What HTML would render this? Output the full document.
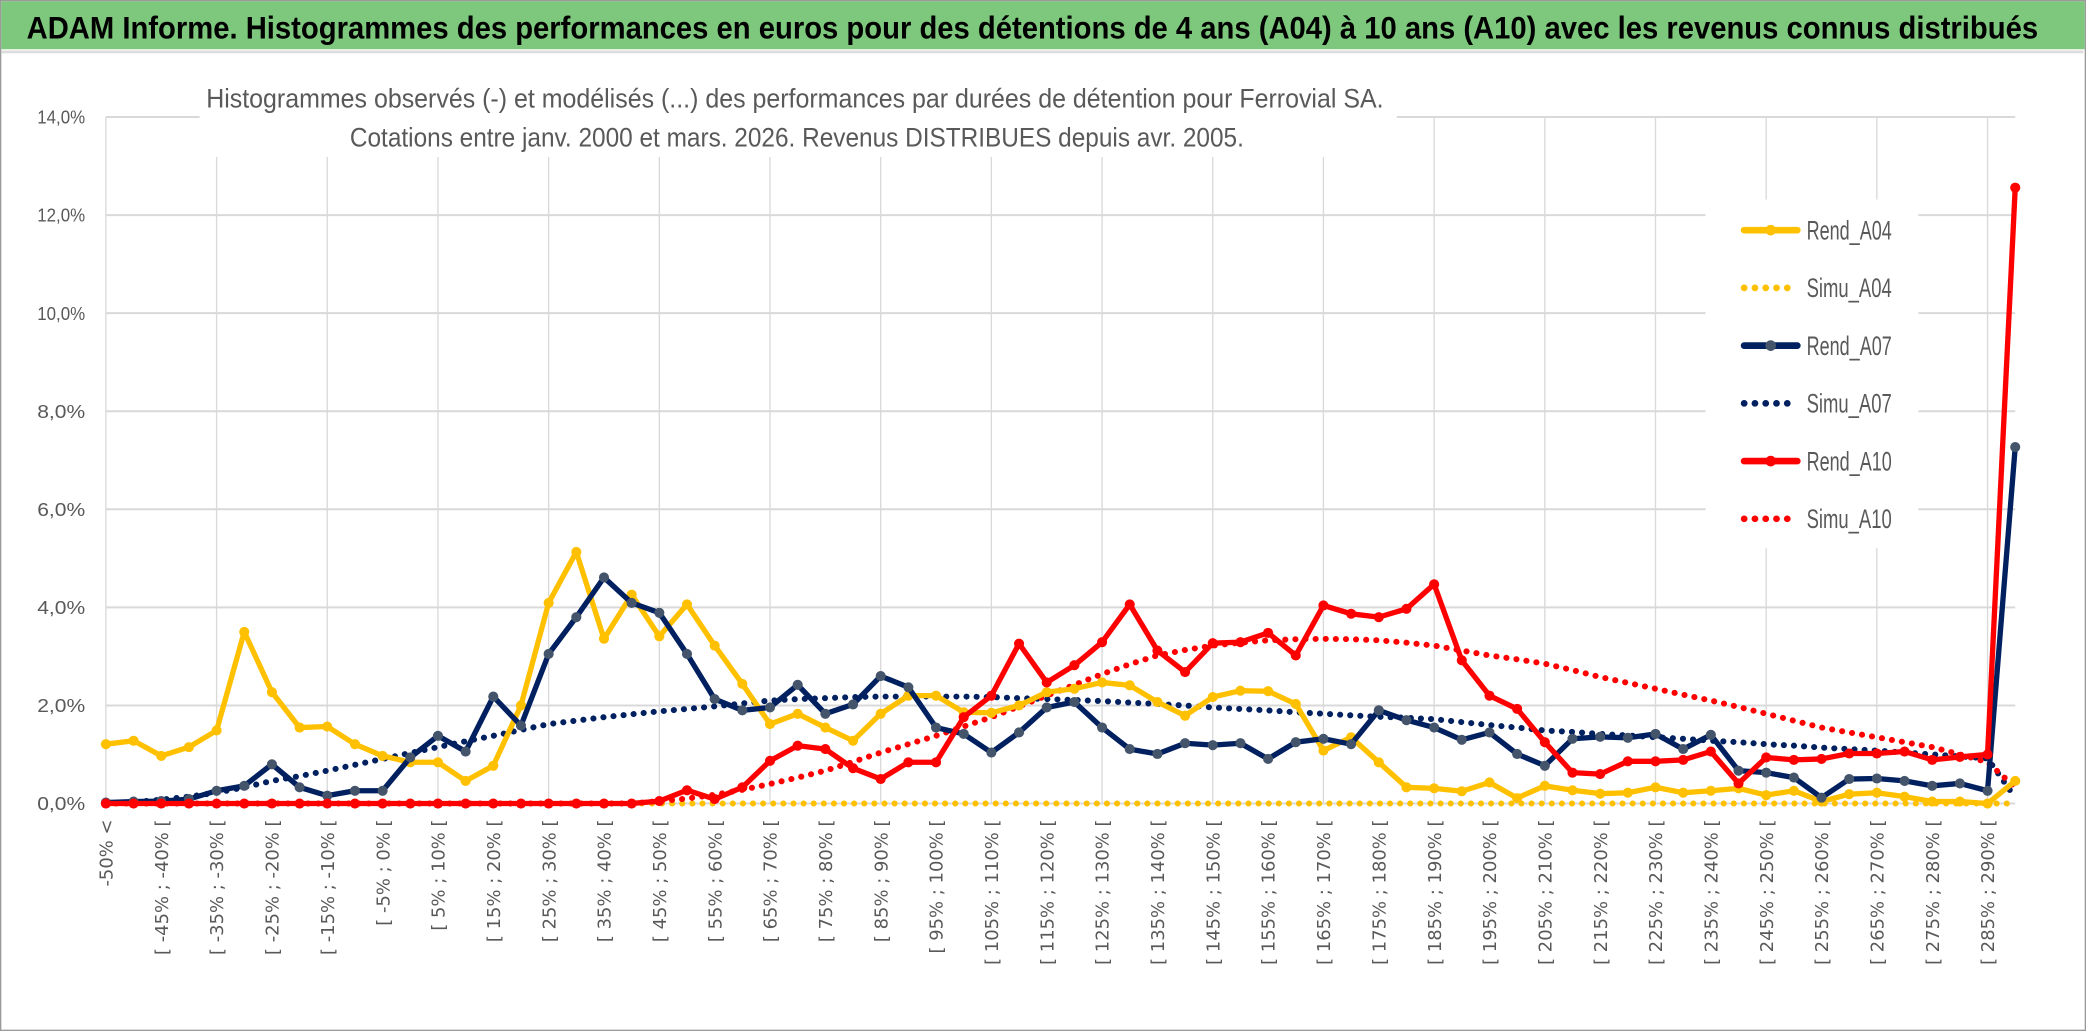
<!DOCTYPE html>
<html><head><meta charset="utf-8"><style>
html,body{margin:0;padding:0;background:#fff;}
svg{display:block;}
</style></head><body>
<svg id="chart" width="2086" height="1031" viewBox="0 0 1568 775" preserveAspectRatio="none" xmlns="http://www.w3.org/2000/svg">
<rect x="0.5" y="0.5" width="1567" height="774" fill="#fff" stroke="#9a9a9a" stroke-width="1"/>
<rect x="1" y="1" width="1566" height="36" fill="#7dc87d"/>
<line x1="1" y1="39" x2="1566" y2="39" stroke="#dcdcdc" stroke-width="2"/>
<text x="20" y="29" font-family="'Liberation Sans',sans-serif" font-weight="bold" font-size="24" fill="#000" textLength="1512" lengthAdjust="spacingAndGlyphs">ADAM Informe. Histogrammes des performances en euros pour des détentions de 4 ans (A04) à 10 ans (A10) avec les revenus connus distribués</text>
<g id="grid"></g>
<rect x="150" y="56" width="900" height="62" fill="#fff"/>
<text x="155" y="81" font-family="'Liberation Sans',sans-serif" font-size="20" fill="#595959" textLength="885" lengthAdjust="spacingAndGlyphs">Histogrammes observés (-) et modélisés (...) des performances par durées de détention pour Ferrovial SA.</text>
<text x="263" y="110" font-family="'Liberation Sans',sans-serif" font-size="20" fill="#595959" textLength="672" lengthAdjust="spacingAndGlyphs">Cotations entre janv. 2000 et mars. 2026. Revenus DISTRIBUES depuis avr. 2005.</text>
<rect x="1282" y="150" width="160" height="262" fill="#fff"/>
<g id="yaxis"></g>
<g id="xaxis"></g>
<g id="series"></g>
<g id="legend"></g>
</svg>
<script>
const categories = ["-50% <"];
for (let k = -50; k < 290; k += 5) categories.push("[ " + k + "% ; " + (k + 5) + "% [");
categories.push("> 290%");
const yTicks = [0, 2, 4, 6, 8, 10, 12, 14];
const rendA04 = [1.21,1.28,0.97,1.15,1.49,3.50,2.27,1.55,1.57,1.21,0.97,0.84,0.84,0.46,0.77,2.00,4.09,5.13,3.36,4.26,3.41,4.06,3.22,2.44,1.62,1.83,1.55,1.28,1.83,2.20,2.20,1.86,1.85,2.00,2.27,2.34,2.47,2.41,2.07,1.79,2.17,2.30,2.29,2.03,1.08,1.35,0.84,0.33,0.31,0.25,0.43,0.11,0.36,0.27,0.20,0.22,0.33,0.22,0.26,0.31,0.17,0.26,0.04,0.19,0.22,0.14,0.04,0.04,0.00,0.46];
const simuA04 = [0,0,0,0,0,0,0,0,0,0,0,0,0,0,0,0,0,0,0,0,0,0,0,0,0,0,0,0,0,0,0,0,0,0,0,0,0,0,0,0,0,0,0,0,0,0,0,0,0,0,0,0,0,0,0,0,0,0,0,0,0,0,0,0,0,0,0,0,0,0];
const rendA07 = [0.02,0.04,0.05,0.09,0.26,0.36,0.80,0.33,0.16,0.26,0.26,0.94,1.38,1.06,2.18,1.59,3.05,3.80,4.61,4.09,3.89,3.05,2.13,1.90,1.96,2.42,1.83,2.02,2.60,2.37,1.55,1.42,1.04,1.45,1.96,2.07,1.55,1.11,1.01,1.23,1.19,1.23,0.91,1.25,1.32,1.21,1.90,1.70,1.55,1.30,1.45,1.01,0.77,1.32,1.36,1.34,1.42,1.11,1.40,0.67,0.63,0.53,0.12,0.50,0.51,0.46,0.36,0.41,0.26,7.27];
const simuA07 = [0.00,0.03,0.08,0.14,0.22,0.33,0.46,0.56,0.67,0.79,0.91,1.03,1.15,1.27,1.38,1.50,1.62,1.69,1.76,1.82,1.88,1.93,1.98,2.04,2.10,2.13,2.15,2.17,2.18,2.18,2.18,2.18,2.17,2.15,2.13,2.11,2.09,2.06,2.03,2.00,1.96,1.93,1.90,1.86,1.83,1.80,1.77,1.75,1.72,1.66,1.60,1.55,1.49,1.46,1.42,1.39,1.35,1.32,1.28,1.25,1.21,1.18,1.14,1.11,1.08,1.04,1.00,0.96,0.92,0.12];
const rendA10 = [0,0,0,0,0,0,0,0,0,0,0,0,0,0,0,0,0,0,0,0,0.05,0.27,0.09,0.33,0.87,1.18,1.11,0.72,0.50,0.84,0.84,1.76,2.20,3.26,2.47,2.82,3.29,4.06,3.12,2.68,3.27,3.29,3.48,3.02,4.04,3.87,3.80,3.97,4.47,2.92,2.20,1.93,1.25,0.63,0.60,0.86,0.86,0.89,1.06,0.41,0.94,0.89,0.91,1.02,1.02,1.06,0.89,0.95,1.00,12.56];
const simuA10 = [0,0,0,0,0,0,0,0,0,0,0,0,0,0,0,0,0,0,0,0,0.05,0.10,0.18,0.28,0.40,0.53,0.67,0.85,1.04,1.21,1.38,1.57,1.76,1.98,2.20,2.42,2.64,2.84,3.02,3.13,3.22,3.28,3.33,3.35,3.36,3.35,3.33,3.28,3.22,3.12,3.02,2.94,2.85,2.72,2.58,2.46,2.34,2.22,2.10,1.97,1.83,1.69,1.55,1.45,1.35,1.25,1.15,1.00,0.84,0.33];

const NS = "http://www.w3.org/2000/svg";
const X0 = 79.6, DX = 20.8, Y0 = 604, PER = 36.86;
const xs = i => X0 + i * DX;
const ys = v => Y0 - v * PER;
function mk(tag, attrs, parent) {
  const e = document.createElementNS(NS, tag);
  for (const k in attrs) e.setAttribute(k, attrs[k]);
  parent.appendChild(e);
  return e;
}
const grid = document.getElementById("grid");
yTicks.forEach(t => {
  const l = mk("line", {x1: X0, x2: xs(categories.length - 1), y1: ys(t), y2: ys(t), stroke: "#d9d9d9", "stroke-width": 1.5}, grid);
  
  
});
for (let i = 0; i < categories.length; i += 4) {
  const l = mk("line", {x1: xs(i), x2: xs(i), y1: ys(14), y2: ys(0), stroke: "#d9d9d9", "stroke-width": 1}, grid);
  
  
}
const yaxis = document.getElementById("yaxis");
yTicks.forEach(t => {
  const tx = mk("text", {x: 64, y: ys(t) + 5, "text-anchor": "end", "font-family": "'Liberation Sans',sans-serif", "font-size": 14, fill: "#595959", textLength: 36, lengthAdjust: "spacingAndGlyphs"}, yaxis);
  
  
  tx.textContent = t.toFixed(1).replace(".", ",") + "%";
});
const xaxis = document.getElementById("xaxis");
for (let i = 0; i < categories.length - 1; i += 2) {
  const x = xs(i) + 5;
  const tx = mk("text", {x: 0, y: 0, "text-anchor": "end", transform: "translate(" + x + ",616) rotate(-90)", "font-family": "'DejaVu Sans',sans-serif", "font-size": 13.5, fill: "#595959"}, xaxis);
  
  
  tx.textContent = categories[i];
}
const series = document.getElementById("series");
function line(vals, color, dotted, name, marker) {
  const pts = vals.map((v, i) => xs(i).toFixed(1) + "," + ys(v).toFixed(1)).join(" ");
  const attrs = {points: pts, fill: "none", stroke: color, "stroke-width": dotted ? 4.5 : 4, "stroke-linejoin": "round", "stroke-linecap": "round"};
  if (dotted) attrs["stroke-dasharray"] = "0.1 7.5";
  const p = mk("polyline", attrs, series);
  
  
  if (marker) vals.forEach((v, i) => {
    const c = mk("circle", {cx: xs(i), cy: ys(v), r: 3.8, fill: marker}, series);
    
    
  });
}
line(simuA04, "#ffc000", true, "simu-a04-line", null);
line(simuA07, "#002060", true, "simu-a07-line", null);
line(simuA10, "#ff0000", true, "simu-a10-line", null);
line(rendA04, "#ffc000", false, "rend-a04-line", "#ffc000");
line(rendA07, "#002060", false, "rend-a07-line", "#44546a");
line(rendA10, "#ff0000", false, "rend-a10-line", "#ff0000");

const legend = document.getElementById("legend");
const legendNames = ["Rend_A04", "Simu_A04", "Rend_A07", "Simu_A07", "Rend_A10", "Simu_A10"];
const legendColors = ["#ffc000", "#ffc000", "#002060", "#002060", "#ff0000", "#ff0000"];
const legendMarkers = ["#ffc000", null, "#44546a", null, "#ff0000", null];
legendNames.forEach((n, k) => {
  const y = 173 + k * 43.4;
  const g = mk("g", {}, legend);
  
  
  const attrs = {x1: 1311, x2: 1351, y1: y, y2: y, stroke: legendColors[k], "stroke-width": 5, "stroke-linecap": "round"};
  if (!legendMarkers[k]) attrs["stroke-dasharray"] = "0.1 8";
  mk("line", attrs, g);
  if (legendMarkers[k]) mk("circle", {cx: 1331, cy: y, r: 4, fill: legendMarkers[k]}, g);
  const t = mk("text", {x: 1358, y: y + 7, "font-family": "'Liberation Sans',sans-serif", "font-size": 20, fill: "#595959", textLength: 64, lengthAdjust: "spacingAndGlyphs"}, g);
  t.textContent = n;
});
</script>
</body></html>
